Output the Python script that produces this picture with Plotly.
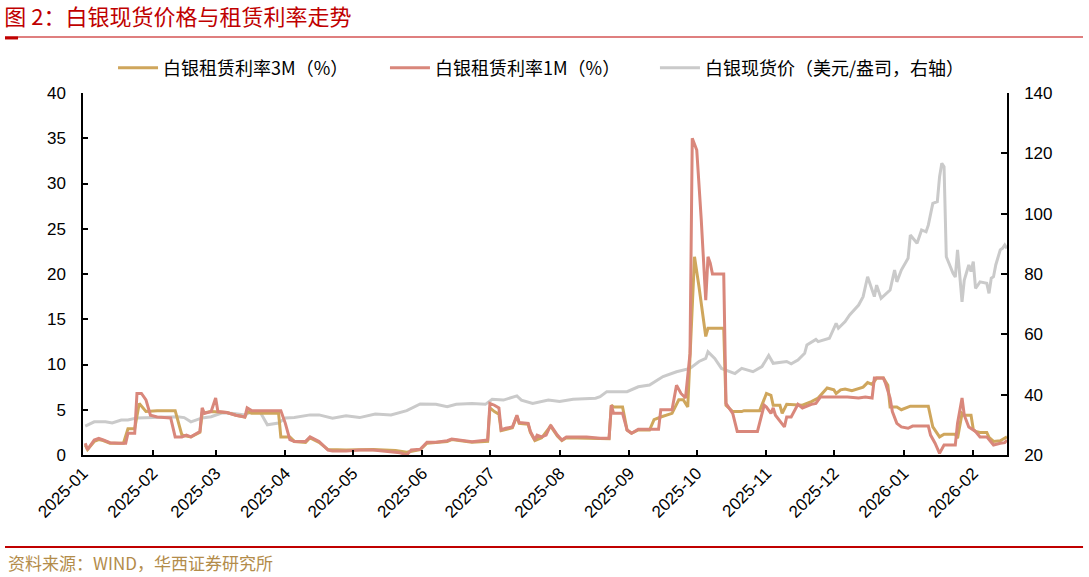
import plotly.graph_objects as go

# ---------------- data ----------------
rate3m_dates = ["2025-01-02","2025-01-03","2025-01-06","2025-01-08","2025-01-10","2025-01-13","2025-01-19","2025-01-21","2025-01-24","2025-01-26","2025-01-29","2025-02-03","2025-02-11","2025-02-14","2025-02-18","2025-02-22","2025-02-23","2025-02-27","2025-03-06","2025-03-10","2025-03-14","2025-03-15","2025-03-17","2025-03-29","2025-03-30","2025-04-03","2025-04-05","2025-04-10","2025-04-12","2025-04-16","2025-04-20","2025-04-28","2025-05-10","2025-05-20","2025-05-25","2025-05-31","2025-06-03","2025-06-12","2025-06-14","2025-06-23","2025-06-30","2025-07-01","2025-07-03","2025-07-05","2025-07-06","2025-07-11","2025-07-13","2025-07-14","2025-07-18","2025-07-19","2025-07-21","2025-07-24","2025-07-28","2025-07-31","2025-08-02","2025-08-04","2025-08-23","2025-08-24","2025-08-25","2025-08-29","2025-08-31","2025-09-02","2025-09-05","2025-09-10","2025-09-12","2025-09-15","2025-09-20","2025-09-23","2025-09-25","2025-09-27","2025-09-30","2025-10-02","2025-10-05","2025-10-06","2025-10-13","2025-10-14","2025-10-17","2025-10-21","2025-10-22","2025-10-29","2025-11-01","2025-11-03","2025-11-04","2025-11-07","2025-11-08","2025-11-10","2025-11-17","2025-11-21","2025-11-24","2025-11-28","2025-12-01","2025-12-02","2025-12-04","2025-12-06","2025-12-09","2025-12-13","2025-12-14","2025-12-16","2025-12-18","2025-12-20","2025-12-23","2025-12-25","2025-12-26","2025-12-29","2025-12-31","2026-01-04","2026-01-12","2026-01-14","2026-01-17","2026-01-19","2026-01-24","2026-01-25","2026-01-27","2026-01-28","2026-01-31","2026-02-01","2026-02-02","2026-02-04","2026-02-07","2026-02-08","2026-02-10","2026-02-13","2026-02-16"]
rate3m_values = [1.1,0.6,1.5,1.7,1.6,1.3,1.3,2.9,2.9,5.7,4.8,4.9,4.9,2.2,2.0,2.5,4.6,4.8,4.7,4.4,4.2,4.8,4.6,4.6,2.0,2.0,1.5,1.4,1.9,1.4,0.6,0.55,0.6,0.5,0.3,0.6,1.3,1.5,1.7,1.4,1.5,5.2,4.8,4.5,2.7,3.0,4.3,3.5,3.4,2.5,1.6,1.9,3.2,2.1,1.6,1.9,1.8,5.5,5.3,5.3,2.76,2.4,2.76,2.76,3.9,4.2,4.6,6.1,6.1,5.3,21.9,18.6,13.1,14.0,14.0,5.5,4.8,4.8,4.9,4.9,6.8,6.6,5.5,5.5,4.6,5.6,5.5,5.9,6.3,7.4,7.2,6.8,7.2,7.3,7.1,7.4,7.5,8.0,7.8,8.5,8.5,7.7,5.3,5.3,5.0,5.4,5.4,3.1,2.0,2.3,2.3,1.84,4.6,4.4,4.4,2.84,2.6,2.5,2.5,1.95,1.5,1.58,2.0]

rate1m_dates = ["2025-01-02","2025-01-03","2025-01-06","2025-01-08","2025-01-10","2025-01-13","2025-01-17","2025-01-20","2025-01-21","2025-01-24","2025-01-25","2025-01-27","2025-01-29","2025-01-31","2025-02-03","2025-02-09","2025-02-11","2025-02-14","2025-02-16","2025-02-18","2025-02-22","2025-02-23","2025-02-24","2025-02-27","2025-03-01","2025-03-02","2025-03-06","2025-03-10","2025-03-14","2025-03-15","2025-03-17","2025-03-30","2025-04-01","2025-04-03","2025-04-05","2025-04-10","2025-04-12","2025-04-16","2025-04-20","2025-04-22","2025-04-28","2025-05-04","2025-05-10","2025-05-16","2025-05-22","2025-05-25","2025-05-27","2025-05-31","2025-06-03","2025-06-07","2025-06-12","2025-06-14","2025-06-20","2025-06-23","2025-06-27","2025-06-30","2025-07-01","2025-07-03","2025-07-05","2025-07-06","2025-07-08","2025-07-11","2025-07-13","2025-07-14","2025-07-18","2025-07-19","2025-07-21","2025-07-22","2025-07-24","2025-07-26","2025-07-28","2025-07-31","2025-08-02","2025-08-04","2025-08-13","2025-08-19","2025-08-23","2025-08-24","2025-08-25","2025-08-29","2025-08-31","2025-09-02","2025-09-05","2025-09-14","2025-09-15","2025-09-20","2025-09-22","2025-09-24","2025-09-26","2025-09-28","2025-09-29","2025-10-01","2025-10-03","2025-10-05","2025-10-06","2025-10-07","2025-10-08","2025-10-13","2025-10-14","2025-10-17","2025-10-19","2025-10-28","2025-10-31","2025-11-01","2025-11-03","2025-11-04","2025-11-05","2025-11-09","2025-11-10","2025-11-12","2025-11-15","2025-11-17","2025-11-21","2025-11-23","2025-11-25","2025-12-07","2025-12-12","2025-12-15","2025-12-18","2025-12-19","2025-12-23","2025-12-24","2025-12-26","2025-12-27","2025-12-29","2025-12-31","2026-01-03","2026-01-05","2026-01-12","2026-01-13","2026-01-15","2026-01-17","2026-01-19","2026-01-24","2026-01-25","2026-01-27","2026-01-28","2026-01-30","2026-02-02","2026-02-04","2026-02-07","2026-02-10","2026-02-13","2026-02-15","2026-02-16"]
rate1m_values = [1.3,0.6,1.66,1.84,1.66,1.36,1.3,1.3,2.4,2.4,6.8,6.8,6.1,4.4,4.2,4.1,2.0,2.0,2.2,2.0,2.6,5.2,4.6,4.8,6.3,4.8,4.7,4.4,4.2,5.2,4.9,4.9,3.5,1.7,1.5,1.5,2.0,1.5,0.55,0.44,0.44,0.55,0.55,0.37,0.25,0.0,0.55,0.63,1.4,1.4,1.58,1.77,1.58,1.47,1.58,1.66,5.7,5.5,5.2,2.76,2.95,3.1,4.4,3.6,3.5,2.6,1.66,2.2,2.0,2.2,3.3,2.2,1.66,2.0,2.0,1.84,1.84,5.5,4.6,4.6,2.76,2.4,2.84,2.84,5.0,5.0,7.7,6.8,6.3,11.2,35.0,33.7,26.0,17.1,21.9,21.2,20.0,20.0,5.7,4.6,2.6,2.6,5.5,5.3,4.6,5.2,4.4,3.1,4.2,4.2,5.6,5.2,5.6,5.7,6.4,6.4,6.3,6.4,6.3,8.5,8.5,7.9,6.3,4.8,3.5,3.1,2.95,3.2,3.2,2.2,1.3,0.19,1.1,1.1,3.5,6.3,4.4,3.1,2.6,2.0,2.0,1.1,1.3,1.36,1.66]

silver_dates = ["2025-01-02","2025-01-03","2025-01-06","2025-01-11","2025-01-14","2025-01-18","2025-01-21","2025-01-25","2025-02-02","2025-02-07","2025-02-12","2025-02-15","2025-02-18","2025-02-23","2025-02-27","2025-03-04","2025-03-09","2025-03-14","2025-03-17","2025-03-21","2025-03-24","2025-03-29","2025-04-01","2025-04-05","2025-04-12","2025-04-16","2025-04-22","2025-04-28","2025-05-04","2025-05-11","2025-05-18","2025-05-25","2025-05-31","2025-06-07","2025-06-12","2025-06-16","2025-06-23","2025-06-29","2025-07-02","2025-07-07","2025-07-13","2025-07-15","2025-07-20","2025-07-27","2025-08-01","2025-08-07","2025-08-13","2025-08-17","2025-08-19","2025-08-22","2025-08-24","2025-08-31","2025-09-05","2025-09-10","2025-09-16","2025-09-22","2025-09-28","2025-10-02","2025-10-05","2025-10-06","2025-10-09","2025-10-12","2025-10-18","2025-10-21","2025-10-26","2025-10-30","2025-11-02","2025-11-04","2025-11-10","2025-11-12","2025-11-15","2025-11-18","2025-11-19","2025-11-23","2025-11-24","2025-11-29","2025-12-02","2025-12-03","2025-12-06","2025-12-08","2025-12-12","2025-12-14","2025-12-16","2025-12-19","2025-12-20","2025-12-22","2025-12-26","2025-12-28","2025-12-29","2025-12-31","2026-01-03","2026-01-04","2026-01-07","2026-01-09","2026-01-11","2026-01-12","2026-01-14","2026-01-16","2026-01-17","2026-01-18","2026-01-19","2026-01-20","2026-01-23","2026-01-24","2026-01-25","2026-01-27","2026-01-28","2026-01-30","2026-01-31","2026-02-01","2026-02-02","2026-02-04","2026-02-07","2026-02-08","2026-02-09","2026-02-10","2026-02-11","2026-02-13","2026-02-14","2026-02-15","2026-02-16"]
silver_values = [29.6,30.0,31.0,31.0,30.6,31.6,31.6,32.3,32.4,32.7,32.7,32.4,31.0,32.3,32.7,34.0,33.8,33.3,34.4,34.0,30.0,30.6,32.3,32.4,33.3,33.3,32.2,33.0,32.4,33.6,33.3,34.7,36.9,36.8,36.0,36.8,37.1,36.8,38.5,38.2,39.6,38.2,37.1,38.2,37.7,38.5,38.8,38.8,39.3,41.0,41.0,41.0,42.6,43.2,46.0,47.6,48.7,51.0,52.0,54.2,52.0,48.7,47.0,48.7,47.6,49.3,53.0,50.4,51.0,50.2,51.5,53.7,56.5,58.3,57.6,58.7,63.6,62.0,64.2,66.4,69.7,72.5,79.1,72.5,76.3,71.9,74.7,81.3,77.4,81.3,85.2,92.9,90.2,94.6,94.0,96.2,103.4,104.0,112.2,116.7,115.6,85.7,80.2,79.0,88.0,70.8,78.0,83.0,80.8,84.1,75.2,77.4,76.9,73.6,78.6,79.1,83.0,88.0,88.5,89.6,88.5]

series_names = ["白银租赁利率3M（%）", "白银租赁利率1M（%）", "白银现货价（美元/盎司，右轴）"]
series_colors = ["#CFA65C", "#D9877B", "#CACACA"]
left_ticks = [0, 5, 10, 15, 20, 25, 30, 35, 40]
right_ticks = [20, 40, 60, 80, 100, 120, 140]
x_range = ["2025-01-01", "2026-02-16"]

title_text = "图 2：白银现货价格与租赁利率走势"
source_text = "资料来源：WIND，华西证券研究所"

# ---------------- figure ----------------
fig = go.Figure()
fig.add_trace(go.Scatter(x=rate3m_dates, y=rate3m_values, name=series_names[0], mode="lines",
                         line=dict(color=series_colors[0], width=3), yaxis="y2", legend="legend"))
fig.add_trace(go.Scatter(x=rate1m_dates, y=rate1m_values, name=series_names[1], mode="lines",
                         line=dict(color=series_colors[1], width=3), yaxis="y2", legend="legend2"))
fig.add_trace(go.Scatter(x=silver_dates, y=silver_values, name=series_names[2], mode="lines",
                         line=dict(color=series_colors[2], width=3), yaxis="y", legend="legend3"))

tickfont = dict(family="Liberation Sans, Arial, sans-serif", size=17, color="#000000")
cjk = "Noto Sans CJK SC, sans-serif"

def legend_at(xpos):
    return dict(orientation="h", x=xpos, xanchor="left", y=1.069, yanchor="middle",
                font=dict(family=cjk, size=18, color="#000000"), itemwidth=40,
                bgcolor="rgba(0,0,0,0)")

fig.update_layout(
    width=1089, height=577,
    margin=dict(l=83, r=82, t=93, b=122),
    paper_bgcolor="white", plot_bgcolor="white",
    showlegend=True,
    legend=legend_at(0.0325),
    legend2=legend_at(0.3268),
    legend3=legend_at(0.619),
    title=dict(text=title_text, xref="container", yref="container", x=0.004, xanchor="left",
               y=0.97, yanchor="middle", font=dict(family=cjk, size=22, color="#C00000")),
    xaxis=dict(type="date", range=x_range, dtick="M1", tick0="2025-01-01", tickformat="%Y-%m",
               tickangle=-45, ticks="inside", ticklen=5, tickcolor="#000000", tickwidth=1.5,
               showline=True, linecolor="#000000", linewidth=1.5, showgrid=False, zeroline=False,
               tickfont=tickfont),
    yaxis=dict(side="right", range=[20, 140], tickvals=right_ticks, ticks="inside", ticklen=6,
               tickcolor="#000000", tickwidth=1.5, showline=True, linecolor="#000000", linewidth=1.5,
               showgrid=False, zeroline=False, tickfont=tickfont, ticklabelstandoff=12),
    yaxis2=dict(side="left", overlaying="y", range=[0, 40], tickvals=left_ticks, ticks="inside",
                ticklen=5, tickcolor="#000000", tickwidth=1.5, showline=True, linecolor="#000000",
                linewidth=1.5, showgrid=False, zeroline=False, tickfont=tickfont, ticklabelstandoff=12),
    shapes=[
        dict(type="line", xref="paper", yref="paper", x0=-0.0844, x1=1.0823, y0=1.1547, y1=1.1547,
             line=dict(color="#C00000", width=1.2)),
        dict(type="line", xref="paper", yref="paper", x0=-0.0844, x1=-0.0703, y0=1.152, y1=1.152,
             line=dict(color="#C00000", width=3)),
        dict(type="line", xref="paper", yref="paper", x0=-0.0844, x1=1.0823, y0=-0.2541, y1=-0.2541,
             line=dict(color="#C00000", width=2)),
    ],
    annotations=[
        dict(text=source_text, xref="paper", yref="paper", x=-0.0833, xanchor="left",
             y=-0.2956, yanchor="middle", showarrow=False,
             font=dict(family=cjk, size=17, color="#B38C4A")),
    ],
)

fig.write_html("out.html", config={"displayModeBar": False},
               post_script="document.body.style.margin='0';")
